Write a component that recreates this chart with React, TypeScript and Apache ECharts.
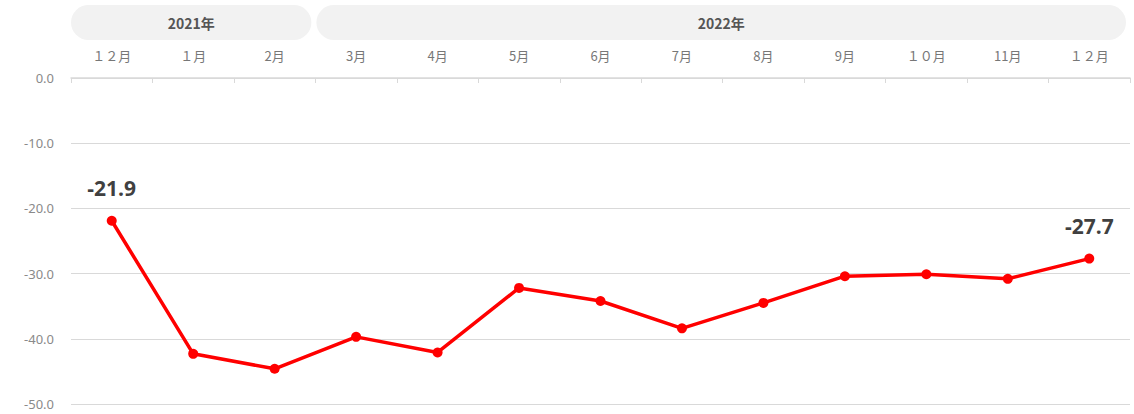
import React, { useEffect, useRef } from "react";
import * as echarts from "echarts";

const months = ["１２月", "１月", "2月", "3月", "4月", "5月", "6月", "7月", "8月", "9月", "１０月", "11月", "１２月"];
const values = [-21.9, -42.3, -44.6, -39.7, -42.1, -32.2, -34.2, -38.4, -34.5, -30.4, -30.1, -30.8, -27.7];
const yearLabels = ["2021年", "2022年"];
const yearStartIdx = [0, 3];
const yearEndIdx = [3, 13];

export default function App() {
  const ref = useRef<HTMLDivElement>(null);
  useEffect(() => {
    document.body.style.margin = "0";
    const chart = echarts.init(ref.current!, null, { renderer: "svg" });
    const lastIdx = values.length - 1;
    chart.setOption({
      animation: false,
      grid: { left: 71, right: 4, top: 78, bottom: 10 },
      xAxis: {
        type: "category",
        position: "top",
        data: months,
        boundaryGap: true,
        axisLine: { lineStyle: { color: "#d9d9d9", width: 1.5 } },
        axisTick: { show: true, inside: true, length: 5, interval: 0, alignWithLabel: false, lineStyle: { color: "#d9d9d9" } },
        axisLabel: { color: "#777", fontSize: 13, margin: 16, interval: 0, fontFamily: "Noto Sans CJK JP" },
      },
      yAxis: {
        type: "value",
        min: -50,
        max: 0,
        interval: 10,
        axisLine: { show: false },
        axisTick: { show: false },
        axisLabel: { color: "#8a8a8a", fontSize: 13, margin: 17, fontFamily: "Noto Sans", formatter: (v: number) => v.toFixed(1) },
        splitLine: { lineStyle: { color: "#d9d9d9", width: 1 } },
      },
      series: [
        {
          type: "line",
          data: values.map((v, i) => ({
            value: v,
            label: {
              show: i === 0 || i === lastIdx,
              position: "top",
              distance: 17,
              formatter: (p: any) => p.value.toFixed(1),
              fontSize: 21,
              fontWeight: "bold",
              color: "#404040",
              fontFamily: "Open Sans",
            },
          })),
          symbol: "circle",
          symbolSize: 10,
          itemStyle: { color: "#ff0000" },
          lineStyle: { color: "#ff0000", width: 3.5 },
        },
      ],
    });
    const px = (i: number) => {
      const a = chart.convertToPixel({ xAxisIndex: 0 }, 0) as number;
      const b = chart.convertToPixel({ xAxisIndex: 0 }, 1) as number;
      const w = b - a;
      return a - w / 2 + i * w;
    };
    const elements: any[] = [];
    yearLabels.forEach((lbl, k) => {
      const x0 = px(yearStartIdx[k]) + (k === 0 ? 0 : 1);
      const x1 = px(yearEndIdx[k]) - 4;
      elements.push({
        type: "rect",
        shape: { x: x0, y: 5, width: x1 - x0, height: 35, r: 17.5 },
        style: { fill: "#f2f2f2" },
        z: 0,
      });
      elements.push({
        type: "text",
        x: (x0 + x1) / 2,
        y: 22.5,
        style: {
          text: lbl,
          fill: "#555",
          fontSize: 14,
          fontWeight: "bold",
          fontFamily: "Noto Sans CJK JP",
          align: "center",
          verticalAlign: "middle",
        },
        z: 1,
      });
    });
    chart.setOption({ graphic: { elements } });
    return () => chart.dispose();
  }, []);
  return <div ref={ref} style={{ width: 1134, height: 414 }} />;
}
